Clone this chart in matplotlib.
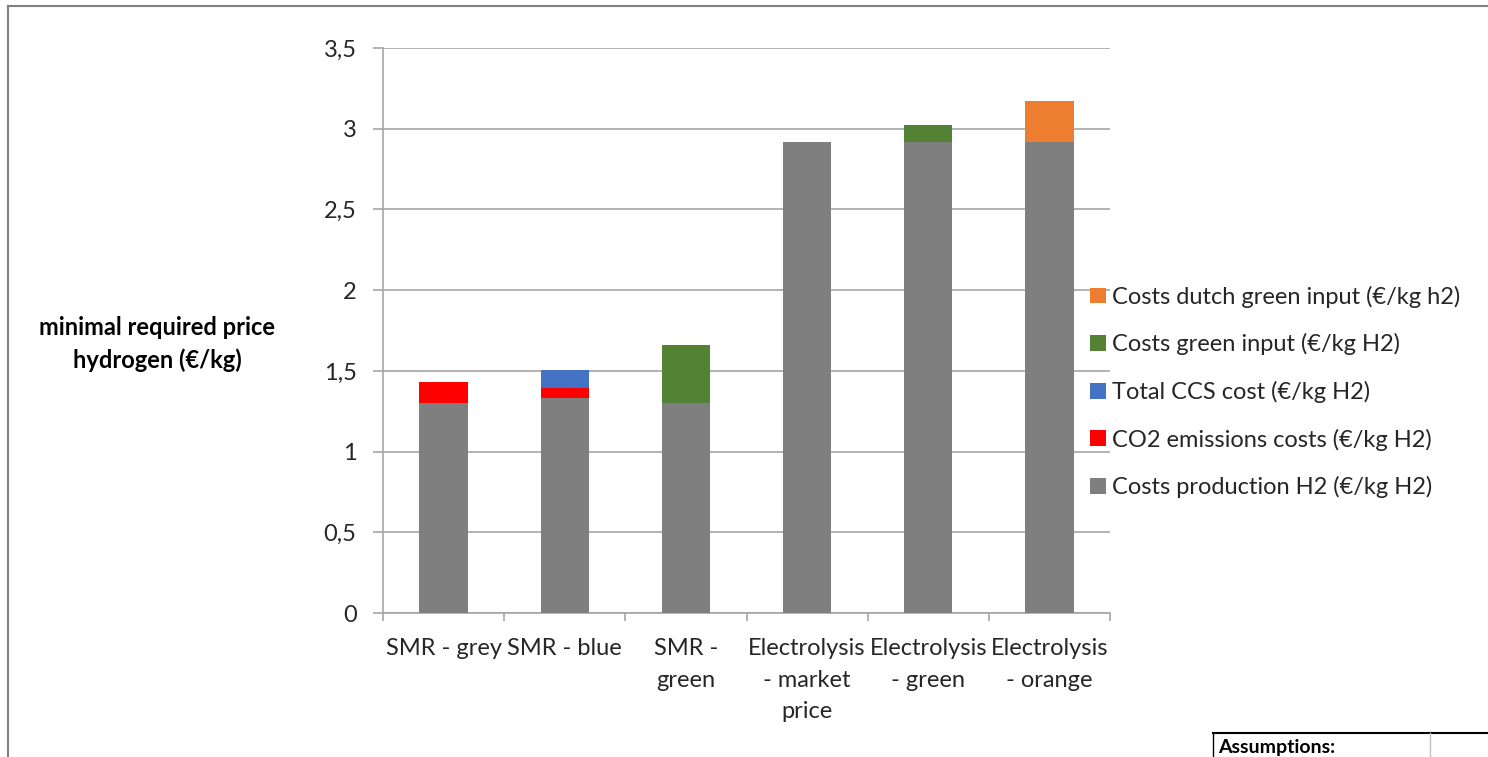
import matplotlib
matplotlib.use("Agg")
import matplotlib.pyplot as plt
from matplotlib.lines import Line2D
import numpy as np

plt.rcParams['font.family'] = ['Lato', 'DejaVu Sans']

categories = ["SMR - grey", "SMR - blue", "SMR -\ngreen", "Electrolysis\n- market\nprice",
              "Electrolysis\n- green", "Electrolysis\n- orange"]
production = [1.30, 1.33, 1.30, 2.92, 2.92, 2.92]
co2 = [0.13, 0.065, 0.0, 0.0, 0.0, 0.0]
ccs = [0.0, 0.11, 0.0, 0.0, 0.0, 0.0]
green_input = [0.0, 0.0, 0.36, 0.0, 0.10, 0.0]
dutch_green = [0.0, 0.0, 0.0, 0.0, 0.0, 0.25]
yticks = [0, 0.5, 1, 1.5, 2, 2.5, 3, 3.5]
ytick_labels = ["0", "0,5", "1", "1,5", "2", "2,5", "3", "3,5"]

series = [
    ("Costs production H2 (€/kg H2)", production, "#7f7f7f"),
    ("CO2 emissions costs (€/kg H2)", co2, "#ff0000"),
    ("Total CCS cost (€/kg H2)", ccs, "#4472c4"),
    ("Costs green input (€/kg H2)", green_input, "#548235"),
    ("Costs dutch green input (€/kg h2)", dutch_green, "#ed7d31"),
]

fig = plt.figure(figsize=(14.88, 7.57), dpi=100)
ax = fig.add_axes([383/1488, 1-613/757, (1110-383)/1488, (613-48)/757])

x = np.arange(len(categories))
bottom = np.zeros(len(categories))
handles = []
for name, vals, col in series:
    vals = np.array(vals)
    b = ax.bar(x, vals, width=0.40, bottom=bottom, color=col, label=name, zorder=3)
    handles.append(b)
    bottom += vals

ax.set_xlim(-0.5, len(categories) - 0.5)
ax.set_ylim(0, 3.5)
ax.set_yticks(yticks)
ax.set_yticklabels(ytick_labels, fontsize=17, color="#262626")
ax.yaxis.grid(True, color="#a6a6a6", linewidth=1.2, zorder=0)
ax.set_axisbelow(True)

ax.set_xticks(x)
ax.set_xticklabels(categories, fontsize=17, color="#262626", va="top", linespacing=1.62)
ax.set_xticks(np.arange(-0.5, len(categories)), minor=True)
ax.tick_params(axis="x", which="major", length=0, pad=18)
ax.tick_params(axis="x", which="minor", length=6, color="#a6a6a6", width=1.2)
ax.tick_params(axis="y", length=7, color="#a6a6a6", width=1.2, pad=12)

for s in ["top", "right"]:
    ax.spines[s].set_visible(False)
for s in ["left", "bottom"]:
    ax.spines[s].set_color("#a6a6a6")
    ax.spines[s].set_linewidth(1.2)

fig.text(157/1488, 1-344/757, "minimal required price\nhydrogen (€/kg)", fontsize=17,
         fontweight="bold", ha="center", va="center", linespacing=1.5, color="#000000")

leg = fig.legend(handles[::-1], [s[0] for s in series][::-1],
                 loc="center left", bbox_to_anchor=(1069/1488, 1-392/757),
                 frameon=False, fontsize=17, handlelength=0.65, handleheight=0.65,
                 handletextpad=0.25, labelspacing=1.08, labelcolor="#262626")

# outer chart frame
fig.add_artist(Line2D([8/1488, 8/1488], [0, 1-6/757], transform=fig.transFigure,
                      color="#808080", linewidth=1.5))
fig.add_artist(Line2D([8/1488, 1], [1-6/757, 1-6/757], transform=fig.transFigure,
                      color="#808080", linewidth=1.5))

# Assumptions box fragment
fig.add_artist(Line2D([1213/1488, 1], [1-733/757, 1-733/757], transform=fig.transFigure,
                      color="#000000", linewidth=1.5))
fig.add_artist(Line2D([1213/1488, 1213/1488], [0, 1-733/757], transform=fig.transFigure,
                      color="#000000", linewidth=1.0))
fig.add_artist(Line2D([1430/1488, 1430/1488], [0, 1-733/757], transform=fig.transFigure,
                      color="#c0c0c0", linewidth=1.0))
fig.text(1218/1488, 1.5/757, "Assumptions:", fontsize=14, fontweight="bold",
         ha="left", va="bottom", color="#000000")

fig.savefig("out.png", dpi=100)
